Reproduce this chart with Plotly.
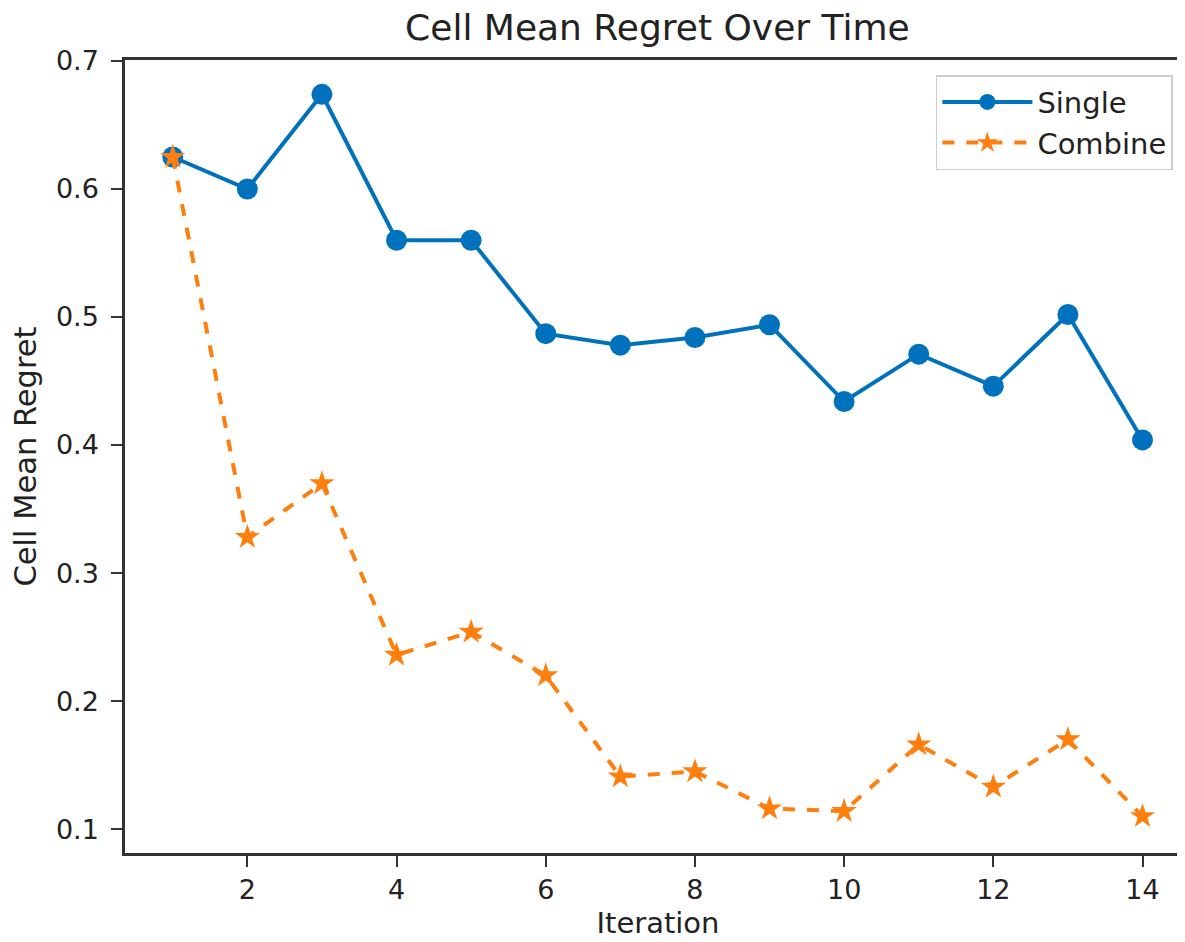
import plotly.graph_objects as go

iterations = list(range(1, 15))
single = [0.625, 0.600, 0.674, 0.560, 0.560, 0.487, 0.478, 0.484, 0.494, 0.434, 0.471, 0.446, 0.502, 0.404]
combine = [0.625, 0.328, 0.370, 0.236, 0.254, 0.220, 0.141, 0.145, 0.116, 0.114, 0.166, 0.133, 0.170, 0.110]

x_ticks = [2, 4, 6, 8, 10, 12, 14]
y_ticks = [0.1, 0.2, 0.3, 0.4, 0.5, 0.6, 0.7]

BLUE = "#0072bd"
ORANGE = "#ff7f0e"
FONT = "DejaVu Sans"
AX = "#333333"
TXT = "#222222"

fig = go.Figure()
fig.add_trace(go.Scatter(
    x=iterations, y=single, name="Single", mode="lines+markers",
    line=dict(color=BLUE, width=4),
    marker=dict(symbol="circle", size=21, color=BLUE),
))
fig.add_trace(go.Scatter(
    x=iterations, y=combine, name="Combine", mode="lines+markers",
    line=dict(color=ORANGE, width=4, dash="dash"),
    marker=dict(symbol="star", size=19, color=ORANGE),
))

fig.update_layout(
    width=1185, height=942,
    paper_bgcolor="white", plot_bgcolor="white",
    margin=dict(l=117, r=2, t=52, b=97, autoexpand=False),
    font=dict(family=FONT, size=27, color=TXT),
    title=dict(text="Cell Mean Regret Over Time", x=0.548, xanchor="center",
               y=0.979, yanchor="middle", font=dict(size=36, family=FONT, color=TXT)),
    legend=dict(x=0.983, y=0.981, xanchor="right", yanchor="top",
                bordercolor="#cccccc", borderwidth=1.5, bgcolor="white",
                font=dict(size=29, family=FONT, color=TXT), itemwidth=90,
                tracegroupgap=4),
    showlegend=True,
)
fig.update_xaxes(
    range=[0.36, 14.65], tickvals=x_ticks, ticktext=[str(v) for v in x_ticks],
    automargin=False,
    showgrid=False, zeroline=False, showline=True, linecolor=AX, linewidth=2.5,
    mirror=True, ticks="outside", ticklen=11, tickwidth=2, tickcolor=AX,
    tickfont=dict(size=27, family=FONT, color=TXT),
    title=dict(text="Iteration", font=dict(size=29, family=FONT, color=TXT), standoff=9),
)
fig.update_yaxes(
    range=[0.0813, 0.7008], tickvals=y_ticks, ticktext=[f"{v:.1f}" for v in y_ticks],
    automargin=False, ticklabelstandoff=7,
    showgrid=False, zeroline=False, showline=True, linecolor=AX, linewidth=2.5,
    mirror=False, ticks="outside", ticklen=11, tickwidth=2, tickcolor=AX,
    tickfont=dict(size=27, family=FONT, color=TXT),
    title=dict(text="Cell Mean Regret", font=dict(size=30.5, family=FONT, color=TXT), standoff=20),
)

fig.write_html("out.html")
